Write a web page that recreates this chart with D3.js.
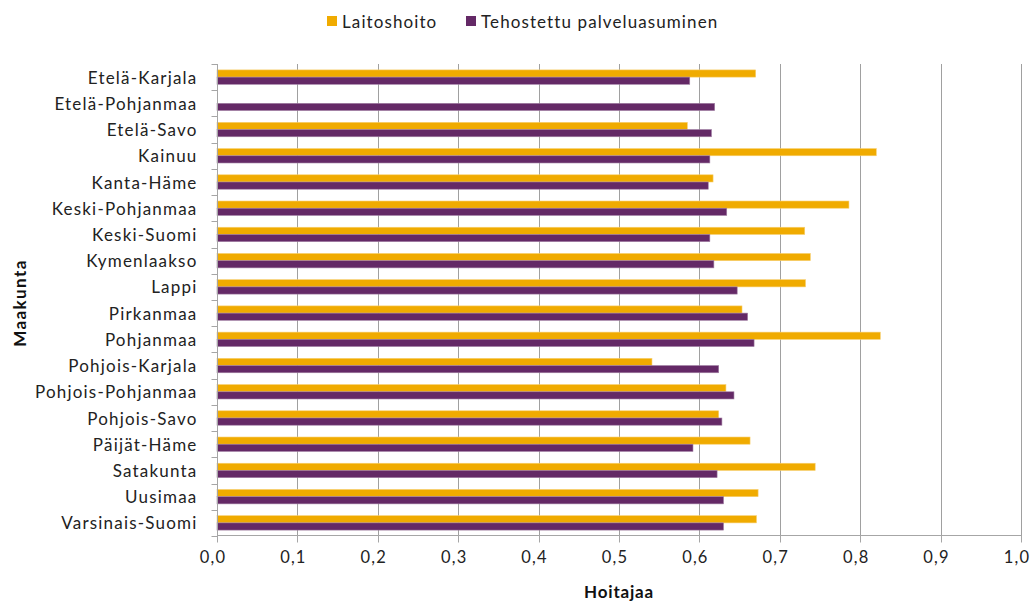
<!DOCTYPE html>
<html>
<head>
<meta charset="utf-8">
<script src="https://cdn.jsdelivr.net/npm/d3@7"></script>
<style>
  body { margin: 0; background: #fff; }
  svg { display: block; font-family: Lato, "Open Sans", sans-serif; }
</style>
</head>
<body>
<svg id="chart" width="1035" height="604"></svg>
<script>
const categories = ["Etelä-Karjala","Etelä-Pohjanmaa","Etelä-Savo","Kainuu","Kanta-Häme","Keski-Pohjanmaa","Keski-Suomi","Kymenlaakso","Lappi","Pirkanmaa","Pohjanmaa","Pohjois-Karjala","Pohjois-Pohjanmaa","Pohjois-Savo","Päijät-Häme","Satakunta","Uusimaa","Varsinais-Suomi"];
const seriesNames = ["Laitoshoito","Tehostettu palveluasuminen"];
const laitoshoito = [0.670,0,0.585,0.820,0.617,0.786,0.731,0.738,0.732,0.653,0.825,0.541,0.633,0.624,0.663,0.744,0.673,0.671];
const tehostettu = [0.588,0.619,0.615,0.613,0.611,0.634,0.613,0.618,0.647,0.660,0.668,0.624,0.643,0.628,0.592,0.622,0.630,0.630];
const xTicks = [0,0.1,0.2,0.3,0.4,0.5,0.6,0.7,0.8,0.9,1.0];
const colors = ["#F0AB00","#642966"];

const svg = d3.select("#chart");
const m = {left: 217, right: 1021, top: 64, bottom: 536};

const x = d3.scaleLinear().domain([0,1]).range([m.left, m.right]);
const y = d3.scaleBand().domain(categories).range([m.top, m.bottom]).padding(0);
const ys = d3.scaleBand().domain(seriesNames).range([0, y.bandwidth()]).paddingInner(0).paddingOuter(0.82);

// gridlines
svg.append("g").selectAll("line").data(xTicks.slice(1)).join("line")
  .attr("x1", d => Math.round(x(d)) + 0.5).attr("x2", d => Math.round(x(d)) + 0.5)
  .attr("y1", m.top).attr("y2", m.bottom)
  .attr("stroke", "#a0a0a0").attr("stroke-width", 1);

// bars
const values = [laitoshoito, tehostettu];
seriesNames.forEach((s, si) => {
  svg.append("g").selectAll("rect").data(categories).join("rect")
    .attr("x", x(0))
    .attr("y", c => y(c) + ys(s))
    .attr("width", (c, i) => Math.max(0, x(values[si][i]) - x(0)))
    .attr("height", ys.bandwidth())
    .attr("fill", colors[si])
    .attr("stroke", si === 0 ? "#f7cf70" : "#a07ea2")
    .attr("stroke-width", 0.6)
    .style("display", (c, i) => values[si][i] > 0 ? null : "none");
});

// y axis
const yAxis = svg.append("g").attr("transform", `translate(${Math.round(x(0)) + 0.5},0)`);
yAxis.append("line").attr("x1", 0).attr("x2", 0).attr("y1", m.top).attr("y2", m.bottom).attr("stroke", "#a6a6a6");
yAxis.selectAll(".tk").data(categories.concat(["__end"])).join("line")
  .attr("x1", -6).attr("x2", 0)
  .attr("y1", (c, i) => Math.round(m.top + i * y.step()) + 0.5)
  .attr("y2", (c, i) => Math.round(m.top + i * y.step()) + 0.5)
  .attr("stroke", "#a6a6a6");
yAxis.selectAll("text").data(categories).join("text")
  .attr("x", -20).attr("y", c => y(c) + y.bandwidth() / 2)
  .attr("text-anchor", "end").attr("dominant-baseline", "central")
  .attr("font-size", 17).attr("letter-spacing", 1.2).attr("fill", "#222")
  .text(c => c);

// x axis
const xAxis = svg.append("g").attr("transform", `translate(0,${m.bottom - 0.5})`);
xAxis.append("line").attr("x1", m.left).attr("x2", m.right).attr("stroke", "#a6a6a6");
xAxis.selectAll("line.tk").data(xTicks).join("line").attr("class", "tk")
  .attr("x1", d => Math.round(x(d)) + 0.5).attr("x2", d => Math.round(x(d)) + 0.5)
  .attr("y1", 0).attr("y2", 7).attr("stroke", "#a6a6a6");
xAxis.selectAll("text").data(xTicks).join("text")
  .attr("x", d => x(d) - 4).attr("y", 27)
  .attr("text-anchor", "middle").attr("font-size", 16.5).attr("letter-spacing", 1.2).attr("fill", "#222")
  .text(d => d.toFixed(1).replace(".", ","));

// axis titles
svg.append("text").attr("x", x(0.5)).attr("y", 598).attr("text-anchor", "middle")
  .attr("font-size", 17).attr("letter-spacing", 0.8).attr("font-weight", "bold").attr("fill", "#111").text("Hoitajaa");
svg.append("text").attr("transform", "translate(26,303) rotate(-90)").attr("text-anchor", "middle")
  .attr("font-size", 17).attr("letter-spacing", 1.4).attr("font-weight", "bold").attr("fill", "#111").text("Maakunta");

// legend
const legendX = [327, 466];
const lg = svg.append("g");
seriesNames.forEach((s, i) => {
  lg.append("rect").attr("x", legendX[i]).attr("y", 16).attr("width", 10).attr("height", 10).attr("fill", colors[i]);
  lg.append("text").attr("x", legendX[i] + 15).attr("y", 21).attr("dominant-baseline", "central")
    .attr("font-size", 17).attr("letter-spacing", 1.1).attr("fill", "#222").text(s);
});
</script>
</body>
</html>
